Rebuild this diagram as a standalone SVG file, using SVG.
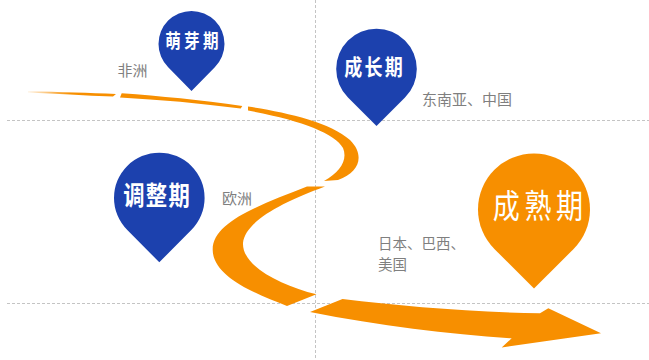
<svg xmlns="http://www.w3.org/2000/svg" width="649" height="360" viewBox="0 0 649 360">
  <defs>
    <linearGradient id="fadeIn" x1="28" y1="0" x2="70" y2="0" gradientUnits="userSpaceOnUse">
      <stop offset="0" stop-color="#f78f00" stop-opacity="0.1"/>
      <stop offset="1" stop-color="#f78f00" stop-opacity="1"/>
    </linearGradient>
  </defs>
  <style>
    .grid { stroke: #c4c4c4; stroke-width: 1; stroke-dasharray: 3 2; fill: none; }
    .road { fill: #f78f00; }
    .pin-blue { fill: #1c41ae; }
    .pin-orange { fill: #f78f00; }
    .title { fill: #ffffff; font-family: "Noto Sans CJK SC", "Noto Sans", sans-serif; font-weight: 700; text-anchor: middle; }
    .title-light { font-weight: 400; }
    .label { fill: #7f7f7f; font-family: "Noto Sans CJK SC", "Noto Sans", sans-serif; font-size: 15px; }
    .label-small { font-size: 14.5px; }
  </style>

  <!-- dashed guide lines -->
  <g id="grid">
    <line class="grid" x1="7" y1="120.5" x2="649" y2="120.5"/>
    <line class="grid" x1="7" y1="303.5" x2="649" y2="303.5"/>
    <line class="grid" x1="315.5" y1="0" x2="315.5" y2="360"/>
  </g>

  <!-- winding road ending in an arrow -->
  <g id="connectors">
    <path fill="url(#fadeIn)" d="M28,91.3 C60,92 90,93 116,94 L113,96.6 C85,95.3 55,93.6 28,92.4 Z"/>
    <path class="road" d="M121.7,93.3 C160,96 200,100 242.3,106 L240.7,108.6 C200,103 160,99.6 120,97.4 Z"/>
    <path class="road" d="M248,106.5 C285,112 330,122 350,140 C365,155 360,172 338,180 L324,181 C340,172 348,160 343,148 C335,133 300,120 248,110.5 Z"/>
    <path class="road" d="M307,186.5 L325,186.5 C280,203 245,222 243,243 C242,266 280,285 316.5,294.3 L287,306 C250,292 213,275 212.7,250 C212,222 260,205 307,186.5 Z"/>
    <path class="road" d="M310,312 L342.5,299 C400,306 470,312 540,313.3 L548.3,308.3 L601,333.3 L501.7,347.5 L511.7,338.3 C450,334 380,326 310,312 Z"/>
  </g>

  <!-- stage markers -->
  <g id="stage-sprout">
    <path class="pin-blue" d="M191.5,91 L168.2,67.3 A33,33 0 1 1 214.8,67.3 Z"/>
    <text class="title" font-size="19" letter-spacing="4" transform="translate(193.5,47.7) scale(0.82,1)">萌芽期</text>
  </g>
  <g id="stage-growth">
    <path class="pin-blue" d="M376.5,126 L348,97.5 A40.3,40.3 0 1 1 405,97.5 Z"/>
    <text class="title" font-size="22" letter-spacing="2.6" transform="translate(374.6,75.4) scale(0.82,1)">成长期</text>
  </g>
  <g id="stage-adjust">
    <path class="pin-blue" d="M159.3,262.3 L127.3,230 A45.3,45.3 0 1 1 191.3,230 Z"/>
    <text class="title" font-size="26" letter-spacing="1.7" transform="translate(157.2,204.9) scale(0.82,1)">调整期</text>
  </g>
  <g id="stage-mature">
    <path class="pin-orange" d="M534,288.5 L494.4,249 A56,56 0 1 1 573.6,249 Z"/>
    <text class="title title-light" font-size="33" letter-spacing="5.5" transform="translate(540.2,217.5) scale(0.82,1)">成熟期</text>
  </g>

  <!-- regions -->
  <g id="labels">
    <text class="label" x="117.5" y="76">非洲</text>
    <text class="label" x="422" y="105">东南亚、中国</text>
    <text class="label" x="222" y="204">欧洲</text>
    <text class="label label-small" x="378" y="248.8">日本、巴西、</text>
    <text class="label label-small" x="378" y="270">美国</text>
  </g>
</svg>
